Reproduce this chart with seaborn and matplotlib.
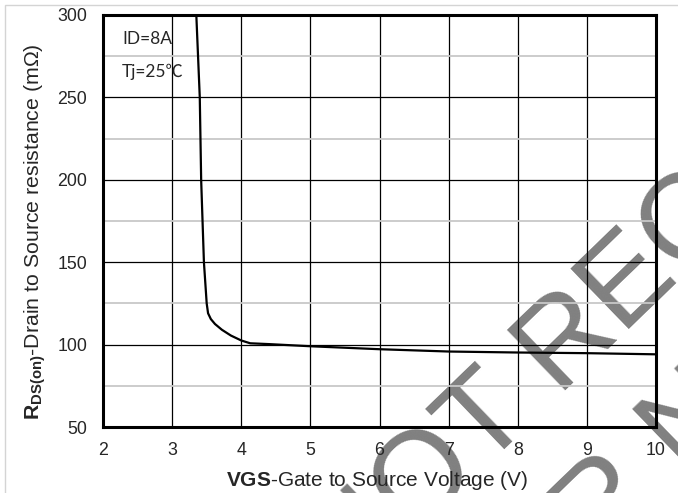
import numpy as np
import pandas as pd
import seaborn as sns
import matplotlib.pyplot as plt
from matplotlib.patches import Rectangle
from matplotlib.ticker import MultipleLocator

# RDS(on) vs VGS, ID=8A, Tj=25C
vgs = [3.35, 3.40, 3.42, 3.46, 3.50, 3.52, 3.56, 3.62, 3.72, 3.85, 4.00, 4.13,
       4.40, 5.00, 6.00, 7.00, 8.00, 9.00, 10.00]
rds = [300, 250, 200, 150, 125, 119, 115.5, 112.5, 109, 105.5, 102.5, 100.8,
       100.3, 99.0, 97.2, 95.8, 95.2, 94.8, 94.1]

x_ticks = [2, 3, 4, 5, 6, 7, 8, 9, 10]
y_ticks = [50, 100, 150, 200, 250, 300]
notes = ['ID=8A', 'Tj=25℃']
stamp = ['NOT RECOMMENDED FOR NEW DESIGN', 'FOR NEW DESIGN']

sns.set_style('white')
plt.rcParams['font.family'] = ['Liberation Sans', 'DejaVu Sans']
plt.rcParams['mathtext.fontset'] = 'custom'
plt.rcParams['mathtext.rm'] = 'Liberation Sans'
plt.rcParams['mathtext.bf'] = 'Liberation Sans:bold'

fig = plt.figure(figsize=(6.78, 4.93), dpi=100)
ax = fig.add_axes([103 / 678, 66 / 493, 553 / 678, 412 / 493])
ax.set_facecolor('none')

df = pd.DataFrame({'VGS': vgs, 'RDS': rds})
sns.lineplot(data=df, x='VGS', y='RDS', sort=False, color='black', lw=1.6, ax=ax, zorder=4)

ax.set_xlim(2, 10)
ax.set_ylim(50, 300)
ax.set_xticks(x_ticks)
ax.set_yticks(y_ticks)
ax.yaxis.set_minor_locator(MultipleLocator(25))
ax.grid(which='major', color='black', lw=0.9)
ax.grid(which='minor', axis='y', color='#c8c8c8', lw=1.3)
ax.tick_params(which='both', length=0, labelsize=12.8)
ax.tick_params(axis='x', pad=10.5)
ax.tick_params(axis='y', pad=11.5)
for s in ax.spines.values():
    s.set_linewidth(2.2)
    s.set_color('black')

ax.set_xlabel(r'$\mathbf{VGS}$-Gate to Source Voltage (V)', fontsize=15)
ax.set_ylabel(r'$\mathbf{R}_{\mathbf{DS(on)}}$-Drain to Source resistance (m$\Omega$)', fontsize=15.3)
ax.xaxis.set_label_coords(0.4955, -0.102)
ax.yaxis.set_label_coords(-0.10, 0.475)

for i, t in enumerate(notes):
    ax.text(2.275, 282.4 - 20 * i, t, family=['Lato', 'Noto Sans CJK SC'],
            fontsize=12.5, va='baseline')

# light frame of the page
fig.patches.append(Rectangle((4.5 / 678, -0.05), 1.1, 0.9899 + 0.05, transform=fig.transFigure,
                             fill=False, ec='#d4d4d4', lw=1))

# watermark behind the chart (two diagonal rows)
wm = dict(rotation=44, rotation_mode='anchor', ha='left', va='baseline', fontsize=88,
          family='Liberation Sans', color='#808080', zorder=-1)
fig.text(0.5174, -0.2142, stamp[0], **wm)
fig.text(0.699, -0.3785, stamp[1], **wm)

fig.savefig('out.png', dpi=100)
